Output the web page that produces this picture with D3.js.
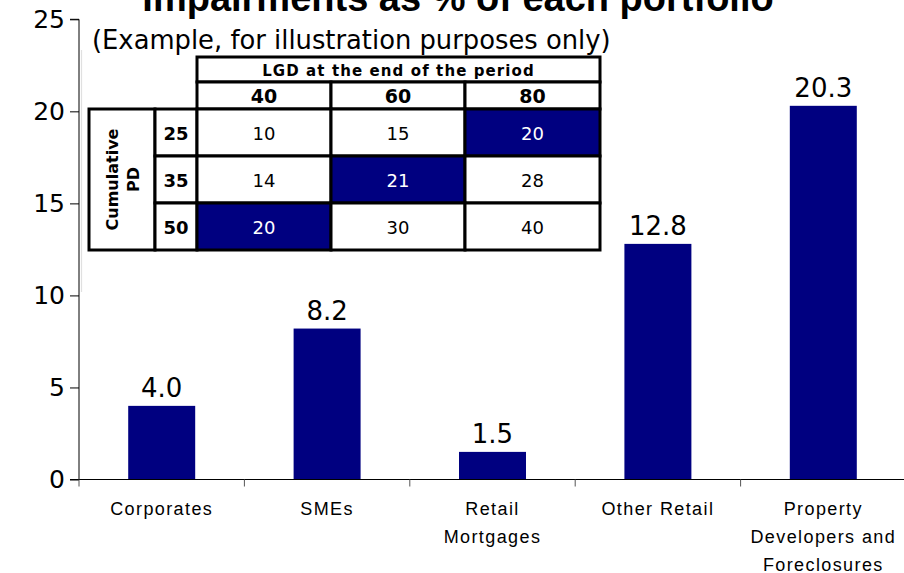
<!DOCTYPE html>
<html>
<head>
<meta charset="utf-8">
<script src="https://cdn.jsdelivr.net/npm/d3@7/dist/d3.min.js"></script>
<style>
  html, body { margin: 0; padding: 0; background: #fff; }
  svg { display: block; }
</style>
</head>
<body>
<svg id="chart" width="904" height="573"></svg>
<script>
// Portfolio impairments (% of each portfolio)
const categories = [
  ["Corporates"],
  ["SMEs"],
  ["Retail", "Mortgages"],
  ["Other Retail"],
  ["Property", "Developers and", "Foreclosures"]
];
const impairments = [4.0, 8.2, 1.5, 12.8, 20.3];
const yTicks = [0, 5, 10, 15, 20, 25];

// Inset table: impairment = cumulative PD x LGD
const lgdLevels = [40, 60, 80];
const pdLevels = [25, 35, 50];
const lossGrid = [
  [10, 15, 20],
  [14, 21, 28],
  [20, 30, 40]
];
const highlighted = [[0, 2], [1, 1], [2, 0]];

const NAVY = "#000080";
const NUM_FONT = "'DejaVu Sans', Verdana, sans-serif";
const LAB_FONT = "'Liberation Sans', Arial, sans-serif";

const svg = d3.select("#chart");

const plot = { left: 79, right: 906, top: 19.3, bottom: 479.5 };

const x = d3.scaleBand()
  .domain(d3.range(categories.length))
  .range([plot.left, plot.right])
  .paddingInner(0.595)
  .paddingOuter(0.2975);

const y = d3.scaleLinear()
  .domain([0, 25])
  .range([plot.bottom, plot.top]);

// Title (runs off the top edge)
svg.append("text")
  .attr("x", 458)
  .attr("y", 11)
  .attr("text-anchor", "middle")
  .attr("font-family", LAB_FONT)
  .attr("font-weight", "bold")
  .attr("font-size", 38)
  .attr("fill", "#000")
  .text("Impairments as % of each portfolio");

// Bars
svg.append("g")
  .selectAll("rect")
  .data(impairments)
  .join("rect")
  .attr("x", (d, i) => x(i))
  .attr("width", x.bandwidth())
  .attr("y", d => y(d))
  .attr("height", d => y(0) - y(d))
  .attr("fill", NAVY);

// Value labels
svg.append("g")
  .selectAll("text")
  .data(impairments)
  .join("text")
  .attr("x", (d, i) => x(i) + x.bandwidth() / 2)
  .attr("y", d => y(d) - 9)
  .attr("text-anchor", "middle")
  .attr("font-family", NUM_FONT)
  .attr("font-size", 26)
  .attr("fill", "#000")
  .text(d => d.toFixed(1));

// Y axis
const yAxis = svg.append("g")
  .attr("transform", `translate(${plot.left},0)`)
  .call(d3.axisLeft(y).tickValues(yTicks).tickSize(9).tickPadding(5).tickFormat(d3.format("d")));
yAxis.select(".domain").attr("stroke", "#000").attr("d", `M-9,${y(25)}H0V${y(0)}`);
yAxis.selectAll(".tick line").attr("stroke", "#000");
yAxis.selectAll(".tick text")
  .attr("font-family", NUM_FONT)
  .attr("font-size", 25)
  .attr("fill", "#000");

// X axis: baseline with category dividers
const step = x.step();
const dividers = d3.range(categories.length).map(i => plot.left + i * step);
const xAxis = svg.append("g");
xAxis.append("line")
  .attr("x1", plot.left - 9).attr("x2", plot.right)
  .attr("y1", y(0)).attr("y2", y(0))
  .attr("stroke", "#000").attr("stroke-width", 1.2);
xAxis.selectAll("line.div")
  .data(dividers)
  .join("line")
  .attr("class", "div")
  .attr("x1", d => d).attr("x2", d => d)
  .attr("y1", y(0)).attr("y2", y(0) + 7)
  .attr("stroke", "#555").attr("stroke-width", 1);

// Category labels
const catG = svg.append("g");
categories.forEach((lines, i) => {
  const t = catG.append("text")
    .attr("x", x(i) + x.bandwidth() / 2)
    .attr("y", 515)
    .attr("text-anchor", "middle")
    .attr("font-family", LAB_FONT)
    .attr("font-size", 18)
    .attr("letter-spacing", 1.4)
    .attr("fill", "#000");
  lines.forEach((ln, j) => {
    t.append("tspan")
      .attr("x", x(i) + x.bandwidth() / 2)
      .attr("dy", j === 0 ? 0 : 28)
      .text(ln);
  });
});

// Subtitle
svg.append("text")
  .attr("x", 92)
  .attr("y", 49)
  .attr("font-family", NUM_FONT)
  .attr("font-size", 25.8)
  .attr("fill", "#000")
  .text("(Example, for illustration purposes only)");

// Faint frame edge left of the inset
svg.append("line")
  .attr("x1", 81.5).attr("x2", 81.5)
  .attr("y1", 50).attr("y2", 292)
  .attr("stroke", "#e0e0e0").attr("stroke-width", 1.2);

// Inset table
const colX = [197, 331, 465, 600];
const rowY = [109, 156, 203, 250];
const headY = [57, 82, 109];
const pdColX = [89, 155, 197];
const tbl = svg.append("g");
const cell = (x0, y0, x1, y1, fill) => tbl.append("rect")
  .attr("x", x0).attr("y", y0)
  .attr("width", x1 - x0).attr("height", y1 - y0)
  .attr("fill", fill).attr("stroke", "#000").attr("stroke-width", 3);

// header
cell(colX[0], headY[0], colX[3], headY[1], "#fff");
tbl.append("text")
  .attr("x", (colX[0] + colX[3]) / 2).attr("y", 76)
  .attr("text-anchor", "middle")
  .attr("font-family", NUM_FONT).attr("font-weight", "bold")
  .attr("font-size", 15).attr("letter-spacing", 1.1)
  .text("LGD at the end of the period");
lgdLevels.forEach((v, c) => {
  cell(colX[c], headY[1], colX[c + 1], headY[2], "#fff");
  tbl.append("text")
    .attr("x", (colX[c] + colX[c + 1]) / 2).attr("y", 103)
    .attr("text-anchor", "middle")
    .attr("font-family", NUM_FONT).attr("font-weight", "bold")
    .attr("font-size", 19)
    .text(v);
});

// row header
cell(pdColX[0], rowY[0], pdColX[1], rowY[3], "#fff");
const pdTitle = tbl.append("text")
  .attr("transform", `translate(${(pdColX[0] + pdColX[1]) / 2},${(rowY[0] + rowY[3]) / 2}) rotate(-90)`)
  .attr("text-anchor", "middle")
  .attr("font-family", NUM_FONT).attr("font-weight", "bold")
  .attr("font-size", 16);
pdTitle.append("tspan").attr("x", 0).attr("y", -4).text("Cumulative");
pdTitle.append("tspan").attr("x", 0).attr("y", 17).text("PD");

pdLevels.forEach((v, r) => {
  cell(pdColX[1], rowY[r], pdColX[2], rowY[r + 1], "#fff");
  tbl.append("text")
    .attr("x", (pdColX[1] + pdColX[2]) / 2).attr("y", (rowY[r] + rowY[r + 1]) / 2 + 7)
    .attr("text-anchor", "middle")
    .attr("font-family", NUM_FONT).attr("font-weight", "bold")
    .attr("font-size", 18)
    .text(v);
  lossGrid[r].forEach((val, c) => {
    const hot = highlighted.some(([hr, hc]) => hr === r && hc === c);
    cell(colX[c], rowY[r], colX[c + 1], rowY[r + 1], hot ? NAVY : "#fff");
    tbl.append("text")
      .attr("x", (colX[c] + colX[c + 1]) / 2).attr("y", (rowY[r] + rowY[r + 1]) / 2 + 7)
      .attr("text-anchor", "middle")
      .attr("font-family", NUM_FONT)
      .attr("font-size", 18)
      .attr("fill", hot ? "#fff" : "#000")
      .text(val);
  });
});
</script>
</body>
</html>
